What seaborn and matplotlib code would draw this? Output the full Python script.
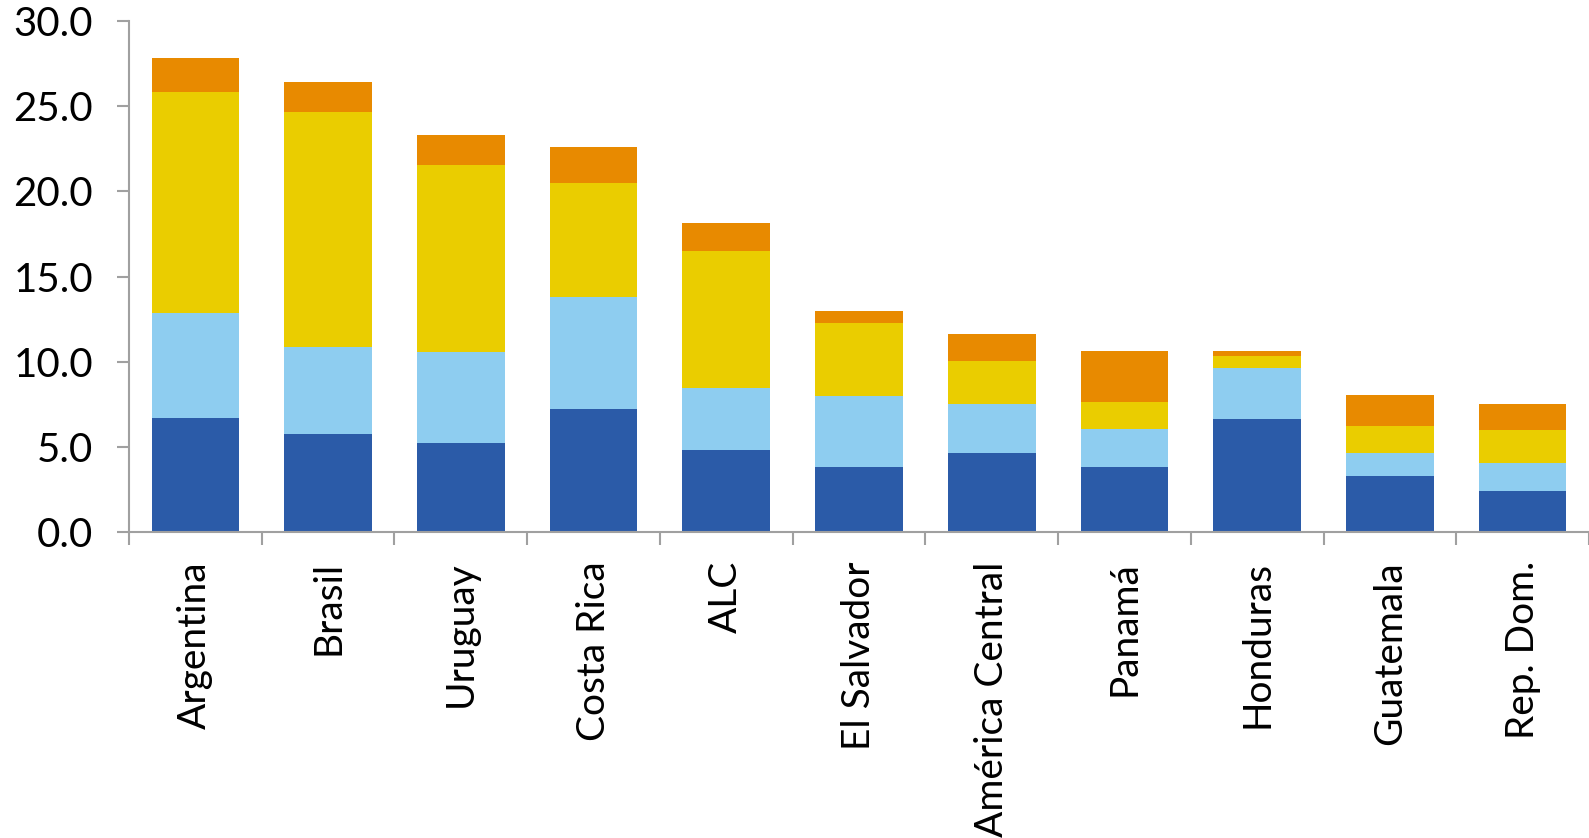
import numpy as np
import pandas as pd
import matplotlib
matplotlib.use("Agg")
import matplotlib.pyplot as plt
import seaborn as sns

categories = ["Argentina", "Brasil", "Uruguay", "Costa Rica", "ALC", "El Salvador",
              "América Central", "Panamá", "Honduras", "Guatemala", "Rep. Dom."]
serie1 = [6.68, 5.74, 5.24, 7.20, 4.82, 3.81, 4.64, 3.81, 6.61, 3.27, 2.38]
serie2 = [6.20, 5.15, 5.30, 6.61, 3.63, 4.17, 2.86, 2.26, 3.00, 1.37, 1.67]
serie3 = [12.93, 13.79, 11.01, 6.67, 8.04, 4.28, 2.56, 1.55, 0.72, 1.61, 1.96]
serie4 = [2.03, 1.72, 1.78, 2.14, 1.66, 0.72, 1.55, 3.03, 0.27, 1.79, 1.49]
colors = ["#2B5BA8", "#8ECDF0", "#EACD00", "#E88A00"]
yticks = [0, 5, 10, 15, 20, 25, 30]

sns.set_theme(style="white")
plt.rcParams['font.family'] = ['Lato', 'DejaVu Sans']

series = [serie1, serie2, serie3, serie4]
cum = np.cumsum(np.array(series), axis=0)

fig = plt.figure(figsize=(15.89, 8.38), dpi=100)
ax = fig.add_axes([129/1589, 1 - 532/838, 1 - 129/1589, (532 - 21)/838])

for i in range(3, -1, -1):
    df = pd.DataFrame({"cat": categories, "val": cum[i]})
    sns.barplot(data=df, x="cat", y="val", order=categories, color=colors[i],
                width=0.66, saturation=1, ax=ax, edgecolor="none", linewidth=0)

ax.set_xlim(-0.5, len(categories) - 0.5)
ax.set_ylim(0, 30)
ax.set_yticks(yticks)
ax.set_yticklabels([f"{v:.1f}" for v in yticks], fontsize=29, color="black")
ax.set_xlabel("")
ax.set_ylabel("")

ax.set_xticks(np.arange(-0.5, len(categories), 1.0))
ax.set_xticklabels([])
ax.set_xticks(np.arange(len(categories)), minor=True)
ax.set_xticklabels(categories, minor=True, rotation=90, fontsize=28, va="top",
                   ha="center", color="black")
ax.tick_params(axis="x", which="major", direction="out", length=9, width=1.5, color="#A0A0A0", bottom=True)
ax.tick_params(axis="x", which="minor", length=0, pad=21, bottom=True)
ax.tick_params(axis="y", direction="out", length=9, width=1.5, color="#A0A0A0", left=True, pad=17)

for s in ["top", "right"]:
    ax.spines[s].set_visible(False)
for s in ["left", "bottom"]:
    ax.spines[s].set_color("#A0A0A0")
    ax.spines[s].set_linewidth(1.5)

fig.savefig("out.png", dpi=100, facecolor="white")
